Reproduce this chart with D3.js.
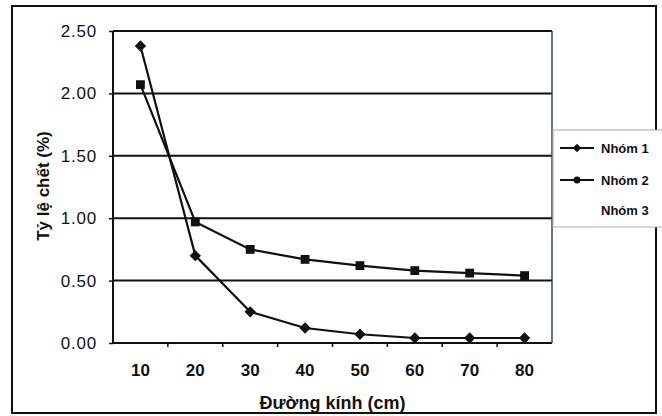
<!DOCTYPE html>
<html>
<head>
<meta charset="utf-8">
<script src="https://cdn.jsdelivr.net/npm/d3@7"></script>
<style>
  body { margin: 0; background: #fff; }
  text { font-family: Arial, "Liberation Sans", sans-serif; fill: #111; }
</style>
</head>
<body>
<svg id="chart" width="662" height="416"></svg>
<script>
// chart values
const diameters = ['10', '20', '30', '40', '50', '60', '70', '80']
const group1 = [2.38, 0.70, 0.25, 0.12, 0.07, 0.04, 0.04, 0.04]
const group2 = [2.07, 0.97, 0.75, 0.67, 0.62, 0.58, 0.56, 0.54]
const yTicks = [0, 0.5, 1, 1.5, 2, 2.5]
const legendNames = ['Nhóm 1', 'Nhóm 2', 'Nhóm 3']

const svg = d3.select('#chart')
const margin = { left: 113, right: 110, top: 31, bottom: 73 }
const width = 662 - margin.left - margin.right
const height = 416 - margin.top - margin.bottom

// outer frame
svg.append('rect')
  .attr('x', 12).attr('y', 6).attr('width', 644).attr('height', 407)
  .attr('fill', 'none').attr('stroke', '#111').attr('stroke-width', 2)

const g = svg.append('g').attr('transform', `translate(${margin.left},${margin.top})`)

const x = d3.scaleBand().domain(diameters).range([0, width])
const y = d3.scaleLinear().domain([0, 2.5]).range([height, 0])

// gridlines
g.selectAll('.grid')
  .data(yTicks)
  .enter()
  .append('line')
  .attr('x1', 0).attr('x2', width)
  .attr('y1', d => y(d)).attr('y2', d => y(d))
  .attr('stroke', '#111').attr('stroke-width', 2)

// plot border left/right
g.append('line').attr('x1', 0).attr('x2', 0).attr('y1', 0).attr('y2', height)
  .attr('stroke', '#111').attr('stroke-width', 2)
g.append('line').attr('x1', width).attr('x2', width).attr('y1', 0).attr('y2', height)
  .attr('stroke', '#3a4a40').attr('stroke-width', 1.5)

// y axis
const yAxis = g.append('g')
  .call(d3.axisLeft(y).tickValues(yTicks).tickFormat(d3.format('.2f')).tickSize(4).tickPadding(12))
yAxis.select('.domain').remove()
yAxis.selectAll('line').attr('stroke', '#111').attr('stroke-width', 1.5)
yAxis.selectAll('text').style('font-size', '17px').style('letter-spacing', '0.8px').attr('fill', '#111')

// x axis with ticks between categories
const xAxis = g.append('g')
  .attr('transform', `translate(0,${height})`)
  .call(d3.axisBottom(x).tickSize(0).tickPadding(21))
xAxis.select('.domain').remove()
xAxis.selectAll('text').style('font-size', '17px').style('font-weight', 'bold').attr('fill', '#111')
g.selectAll('.xtick')
  .data(diameters.slice(1))
  .enter()
  .append('line')
  .attr('x1', d => x(d)).attr('x2', d => x(d))
  .attr('y1', height).attr('y2', height + 4)
  .attr('stroke', '#111').attr('stroke-width', 1.5)

// series lines
const line = d3.line()
  .x((d, i) => x(diameters[i]) + x.bandwidth() / 2)
  .y(d => y(d))

const series = [
  { values: group1, symbol: d3.symbolSquare, size: 64, rotate: 45 },
  { values: group2, symbol: d3.symbolSquare, size: 78, rotate: 0 }
]

series.forEach(s => {
  g.append('path')
    .datum(s.values)
    .attr('d', line)
    .attr('fill', 'none')
    .attr('stroke', '#111')
    .attr('stroke-width', 2.2)
  g.selectAll(null)
    .data(s.values)
    .enter()
    .append('path')
    .attr('d', d3.symbol().type(s.symbol).size(s.size))
    .attr('transform', (d, i) => `translate(${x(diameters[i]) + x.bandwidth() / 2},${y(d)}) rotate(${s.rotate})`)
    .attr('fill', '#111')
})

// axis titles
svg.append('text')
  .attr('x', margin.left + width / 2).attr('y', 409)
  .attr('text-anchor', 'middle')
  .style('font-size', '18px').style('font-weight', 'bold')
  .text('Đường kính (cm)')

svg.append('text')
  .attr('transform', 'translate(49,186) rotate(-90)')
  .attr('text-anchor', 'middle')
  .style('font-size', '17px').style('font-weight', 'bold')
  .text('Tỷ lệ chết (%)')

// legend
const legend = svg.append('g')
legend.append('rect')
  .attr('x', 553).attr('y', 130).attr('width', 120).attr('height', 97)
  .attr('fill', '#fff').attr('stroke', '#aaa').attr('stroke-width', 1)

const legendSymbols = [d3.symbolSquare, d3.symbolCircle, null]
const legendRotate = [45, 0, 0]
const legendY = [148, 180, 210]

legendNames.forEach((name, i) => {
  if (legendSymbols[i]) {
    legend.append('line')
      .attr('x1', 560).attr('x2', 594)
      .attr('y1', legendY[i]).attr('y2', legendY[i])
      .attr('stroke', '#111').attr('stroke-width', 2)
    legend.append('path')
      .attr('d', d3.symbol().type(legendSymbols[i]).size(36))
      .attr('transform', `translate(577,${legendY[i]}) rotate(${legendRotate[i]})`)
      .attr('fill', '#111')
  }
  legend.append('text')
    .attr('x', 601).attr('y', legendY[i] + 5)
    .style('font-size', '13px').style('font-weight', 'bold')
    .text(name)
})
</script>
</body>
</html>
